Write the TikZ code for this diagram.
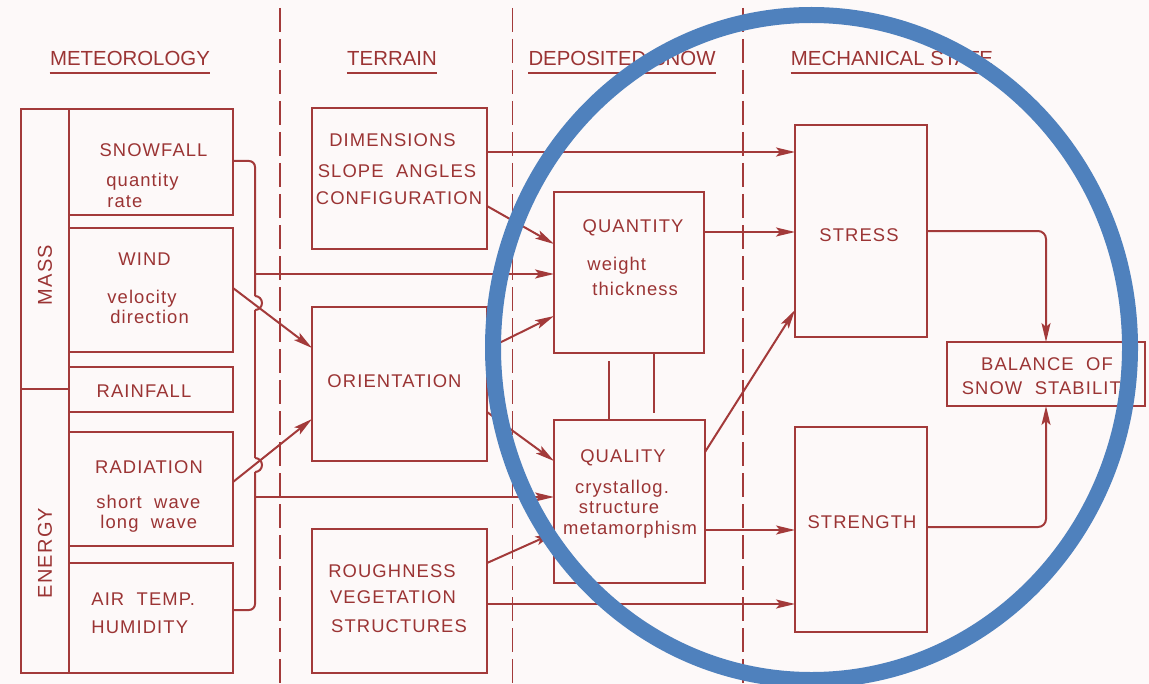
\documentclass[tikz,border=0pt]{standalone}
\usepackage{fontspec}
\setmainfont{Liberation Sans}[LetterSpace=6]
\newfontfamily\headfont{Liberation Sans}
\usetikzlibrary{arrows.meta,fit}

\definecolor{ink}{RGB}{163,58,58}
\definecolor{inktext}{RGB}{155,52,52}
\definecolor{paper}{RGB}{253,249,249}
\definecolor{ring}{RGB}{79,129,189}

\begin{document}
\begin{tikzpicture}[x=0.5pt, y=-0.5pt,
  box/.style={draw=ink, line width=1pt, inner sep=0pt, outer sep=0pt},
  lbl/.style={text=inktext, font=\fontsize{9.2}{10}\selectfont, inner sep=0pt, anchor=base},
  lbll/.style={lbl, anchor=base west},
  side/.style={text=inktext, font=\fontsize{10}{11}\selectfont, inner sep=0pt, rotate=90, anchor=center},
  head/.style={text=inktext, font=\headfont\fontsize{10.2}{12}\selectfont, inner sep=0pt, anchor=base},
  uline/.style={draw=ink, line width=1pt},
  link/.style={draw=ink, line width=1pt},
  arr/.style={draw=ink, line width=1pt, -{Stealth[length=9.5pt,width=4.5pt,inset=2pt]}},
  sep/.style={draw=ink, line width=0.8pt, dash pattern=on 12pt off 3.5pt},
  ringline/.style={draw=ring, line width=8pt}]

% canvas
\fill[paper] (0,0) rectangle (1149,684);
\useasboundingbox (0,0) rectangle (1149,684);

% column separators
\draw[sep] (280,8) -- (280,684);
\draw[sep] (512.5,8) -- (512.5,684);
\draw[sep] (743,8) -- (743,684);

% column headings
\node[head] (hmet) at (130,66) {METEOROLOGY};
\node[head] (hter) at (392,66) {TERRAIN};
\node[head] (hdep) at (622,66) {DEPOSITED SNOW};
\node[head] (hmec) at (892,66) {MECHANICAL STATE};
\draw[uline] (hmet.west |- 0,73) -- (hmet.east |- 0,73);
\draw[uline] (hter.west |- 0,73) -- (hter.east |- 0,73);
\draw[uline] (hdep.west |- 0,73) -- (hdep.east |- 0,73);
\draw[uline] (hmec.west |- 0,73) -- (hmec.east |- 0,73);

% meteorology
\node[box, fit={(21,109) (69,389)}] (mass) {};
\node[box, fit={(21,389) (69,673)}] (energy) {};
\node[side] (masslbl) at (45,275) {MASS};
\node[side] (energylbl) at (45,553) {ENERGY};

\node[box, fit={(69,109) (233,215)}] (snow) {};
\node[box, fit={(69,228) (233,352)}] (wind) {};
\node[box, fit={(69,367) (233,412)}] (rain) {};
\node[box, fit={(69,432) (233,546)}] (rad) {};
\node[box, fit={(69,563) (233,673)}] (air) {};

\node[lbl]  (t1)  at (153.5,157) {SNOWFALL};
\node[lbll] (t2)  at (106,186) {quantity};
\node[lbll] (t3)  at (107,207) {rate};
\node[lbl]  (t4)  at (144.5,265) {WIND};
\node[lbll] (t5)  at (107,303) {velocity};
\node[lbll] (t6)  at (110,323) {direction};
\node[lbl]  (t7)  at (144,397) {RAINFALL};
\node[lbl]  (t8)  at (149,473) {RADIATION};
\node[lbll] (t9)  at (96,508) {short\ \ wave};
\node[lbll] (t10) at (100,528) {long\ \ wave};
\node[lbll] (t11) at (91,605) {AIR\ \ TEMP.};
\node[lbll] (t12) at (91,633) {HUMIDITY};

% terrain
\node[box, fit={(312,108) (487,249)}] (dim) {};
\node[box, fit={(312,307) (487,461)}] (orient) {};
\node[box, fit={(312,529) (487,673)}] (rough) {};

\node[lbl] (t13) at (392.5,147) {DIMENSIONS};
\node[lbl] (t14) at (397,177) {SLOPE\ \ ANGLES};
\node[lbl] (t15) at (399,205) {CONFIGURATION};
\node[lbl] (t16) at (394.5,387) {ORIENTATION};
\node[lbl] (t17) at (392,577) {ROUGHNESS};
\node[lbl] (t18) at (393,603) {VEGETATION};
\node[lbl] (t19) at (399,632) {STRUCTURES};

% deposited snow
\node[box, fit={(554,192) (704,353)}] (qty) {};
\node[box, fit={(554,420) (705,583)}] (qual) {};

\node[lbl]  (t20) at (633,232) {QUANTITY};
\node[lbll] (t21) at (587,270) {weight};
\node[lbll] (t22) at (592,295) {thickness};
\node[lbl]  (t23) at (623,462) {QUALITY};
\node[lbl]  (t24) at (622,493) {crystallog.};
\node[lbl]  (t25) at (619,513) {structure};
\node[lbl]  (t26) at (630,534) {metamorphism};

% mechanical state
\node[box, fit={(795,125) (927,337)}] (stress) {};
\node[box, fit={(795,427) (927,632)}] (strength) {};
\node[box, fit={(947,342) (1145,406)}] (balance) {};

\node[lbl] (t27) at (859,242) {STRESS};
\node[lbl] (t28) at (862,528) {STRENGTH};
\node[lbl] (t29) at (1047,370) {BALANCE\ \ OF};
\node[lbl] (t30) at (1048,394) {SNOW\ \ STABILITY};

% collecting line from snowfall and air temperature, hopping over the diagonals
\coordinate (busA) at (255,296);
\coordinate (busB) at (255,310);
\coordinate (busC) at (255,458);
\coordinate (busD) at (255,472);
\coordinate (busQ) at (255,274);
\coordinate (busL) at (255,497);
\draw[link, rounded corners=3pt] (snow.east |- 0,161) -- (255,161) -- (busA);
\draw[link] (busA) arc[start angle=-90, end angle=90, radius=7];
\draw[link] (busB) -- (busC);
\draw[link] (busC) arc[start angle=-90, end angle=90, radius=7];
\draw[link, rounded corners=3pt] (busD) -- (255,610) -- (air.east |- 0,610);
\draw[arr] (busQ) -- (qty.west |- busQ);
\draw[arr] (busL) -- (qual.west |- busL);

% meteorology to terrain
\draw[arr] (wind.east |- 0,288) -- (orient.west |- 0,348);
\draw[arr] (rad.east |- 0,482) -- (orient.west |- 0,419);

% terrain to deposited snow and mechanical state
\draw[arr] (dim.east |- 0,152) -- (stress.west |- 0,152);
\draw[arr] (dim.east |- 0,206) -- (qty.west |- 0,244);
\draw[arr] (orient.east |- 0,349) -- (qty.west |- 0,316);
\draw[arr] (orient.east |- 0,412) -- (qual.west |- 0,461);
\draw[arr] (rough.east |- 0,563) -- (qual.west |- 0,533);
\draw[arr] (rough.east |- 0,604) -- (strength.west |- 0,604);

% quantity / quality coupling
\draw[link] (609,361) -- (qual.north -| 609,0);
\draw[link] (qty.south -| 654,0) -- (654,413);

% deposited snow to mechanical state
\draw[arr] (qty.east |- 0,232) -- (stress.west |- 0,232);
\draw[arr] (qual.east |- 0,452) -- (stress.west |- 0,310);
\draw[arr] (qual.east |- 0,530) -- (strength.west |- 0,530);

% mechanical state to balance
\draw[arr, rounded corners=4pt] (stress.east |- 0,231) -| (balance.north);
\draw[arr, rounded corners=4pt] (strength.east |- 0,527) -| (balance.south);

% highlight ring
\draw[ringline] (811.5,347.5) ellipse [x radius=318.5, y radius=332.5];
\end{tikzpicture}
\end{document}
